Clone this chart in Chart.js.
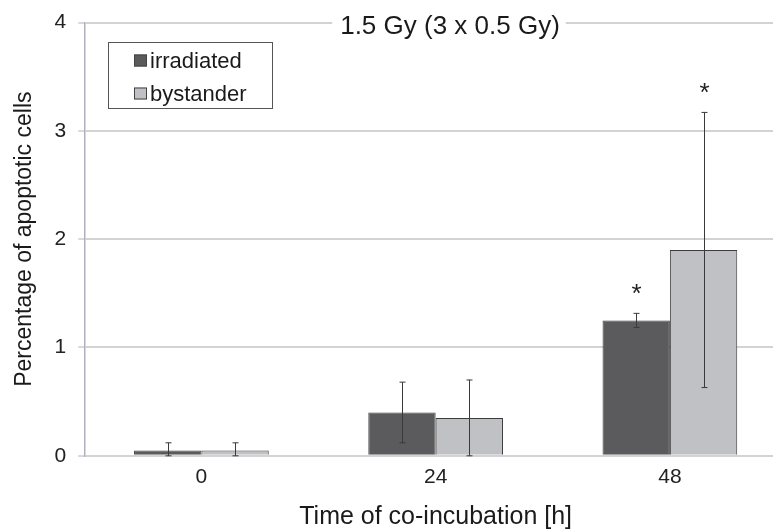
<!DOCTYPE html>
<html>
<head>
<meta charset="utf-8">
<script src="https://cdn.jsdelivr.net/npm/chart.js@4.4.1/dist/chart.umd.min.js"></script>
<style>
html,body{margin:0;padding:0;background:#fff;overflow:hidden;}
#wrap{width:790px;height:529px;position:relative;}
</style>
</head>
<body>
<div id="wrap"><canvas id="c"></canvas></div>
<script>
const categories = ['0', '24', '48'];
const irradiated = [0.05, 0.40, 1.25];
const bystander = [0.05, 0.35, 1.90];
const irradiatedErr = [0.07, 0.28, 0.065];
const bystanderErr = [0.07, 0.35, 1.27];
const irradiatedSig = [false, false, true];
const bystanderSig = [false, false, true];
const yTicks = [0, 1, 2, 3, 4];
const titleText = '1.5 Gy (3 x 0.5 Gy)';
const xTitle = 'Time of co-incubation [h]';
const yTitle = 'Percentage of apoptotic cells';

const FONT = "'Liberation Sans', Arial, sans-serif";

const extrasPlugin = {
  id: 'extras',
  afterDatasetsDraw(chart) {
    const ctx = chart.ctx;
    const y = chart.scales.y;
    const errs = [irradiatedErr, bystanderErr];
    const sigs = [irradiatedSig, bystanderSig];
    ctx.save();
    chart.data.datasets.forEach((ds, di) => {
      const meta = chart.getDatasetMeta(di);
      meta.data.forEach((bar, i) => {
        const v = ds.data[i], e = errs[di][i];
        const yt = y.getPixelForValue(v + e);
        const yb = y.getPixelForValue(Math.max(0, v - e));
        const x = Math.round(bar.x) + 0.5;
        ctx.strokeStyle = '#3a3a3a';
        ctx.lineWidth = 1;
        ctx.beginPath();
        ctx.moveTo(x, yt); ctx.lineTo(x, yb);
        ctx.moveTo(x - 3, yt); ctx.lineTo(x + 3, yt);
        ctx.moveTo(x - 3, yb); ctx.lineTo(x + 3, yb);
        ctx.stroke();
        if (sigs[di][i]) {
          ctx.fillStyle = '#222';
          ctx.font = '26px ' + FONT;
          ctx.textAlign = 'center';
          ctx.textBaseline = 'top';
          ctx.fillText('*', x, yt - 32);
        }
      });
    });
    ctx.restore();
  },
  afterDraw(chart) {
    const ctx = chart.ctx;
    const area = chart.chartArea;
    ctx.save();
    // title over top gridline
    ctx.font = '26px ' + FONT;
    const tw = ctx.measureText(titleText).width;
    const cx = 450;
    ctx.fillStyle = '#fff';
    ctx.fillRect(cx - tw / 2 - 8, area.top - 4, tw + 14, 8);
    ctx.fillStyle = '#1a1a1a';
    ctx.textAlign = 'center';
    ctx.textBaseline = 'alphabetic';
    ctx.fillText(titleText, cx, 34);
    // legend
    const lx = 108.5, ly = 42.5, lw = 164, lh = 66;
    ctx.fillStyle = '#fff';
    ctx.fillRect(lx, ly, lw, lh);
    ctx.strokeStyle = '#555';
    ctx.lineWidth = 1;
    ctx.strokeRect(lx, ly, lw, lh);
    ctx.font = '22px ' + FONT;
    ctx.textAlign = 'left';
    ctx.textBaseline = 'alphabetic';
    chart.data.datasets.forEach((ds, i) => {
      const yy = 60.5 + i * 33;
      ctx.fillStyle = ds.backgroundColor;
      ctx.fillRect(134, yy - 6, 13, 12);
      ctx.strokeStyle = '#444';
      ctx.strokeRect(134.5, yy - 5.5, 12, 11);
      ctx.fillStyle = '#1a1a1a';
      ctx.fillText(ds.label, 150, yy + 7);
    });
    ctx.restore();
  }
};

new Chart(document.getElementById('c'), {
  type: 'bar',
  data: {
    labels: categories,
    datasets: [
      { label: 'irradiated', data: irradiated, backgroundColor: '#5b5b5d', borderColor: '#3c3c3c', borderWidth: 1 },
      { label: 'bystander', data: bystander, backgroundColor: '#c0c1c4', borderColor: '#3c3c3c', borderWidth: 1 }
    ]
  },
  options: {
    responsive: true,
    maintainAspectRatio: false,
    animation: false,
    devicePixelRatio: 1,
    layout: { padding: { top: 4, right: 3, left: 11, bottom: -3 } },
    plugins: { legend: { display: false }, tooltip: { enabled: false }, title: { display: false } },
    datasets: { bar: { barPercentage: 1.0, categoryPercentage: 0.575 } },
    scales: {
      x: {
        grid: { display: false, drawTicks: false },
        border: { display: false },
        ticks: { color: '#222', font: { family: FONT, size: 21 }, padding: 9 },
        title: { display: true, text: xTitle, color: '#1a1a1a', font: { family: FONT, size: 25 }, padding: { top: 3, bottom: 0 } }
      },
      y: {
        min: 0, max: 4,
        afterBuildTicks(axis) { axis.ticks = yTicks.map(v => ({ value: v })); },
        grid: { color: '#d3d3d3', lineWidth: 2, tickLength: 6, tickColor: '#b0b0bc', tickWidth: 1 },
        border: { display: true, color: '#b0b0bc', width: 1.5 },
        ticks: { color: '#222', font: { family: FONT, size: 21, lineHeight: 1.0 }, padding: 12 },
        title: { display: true, text: yTitle, color: '#1a1a1a', font: { family: FONT, size: 23 }, padding: { top: 0, bottom: 4 } }
      }
    }
  },
  plugins: [extrasPlugin]
});
</script>
</body>
</html>
